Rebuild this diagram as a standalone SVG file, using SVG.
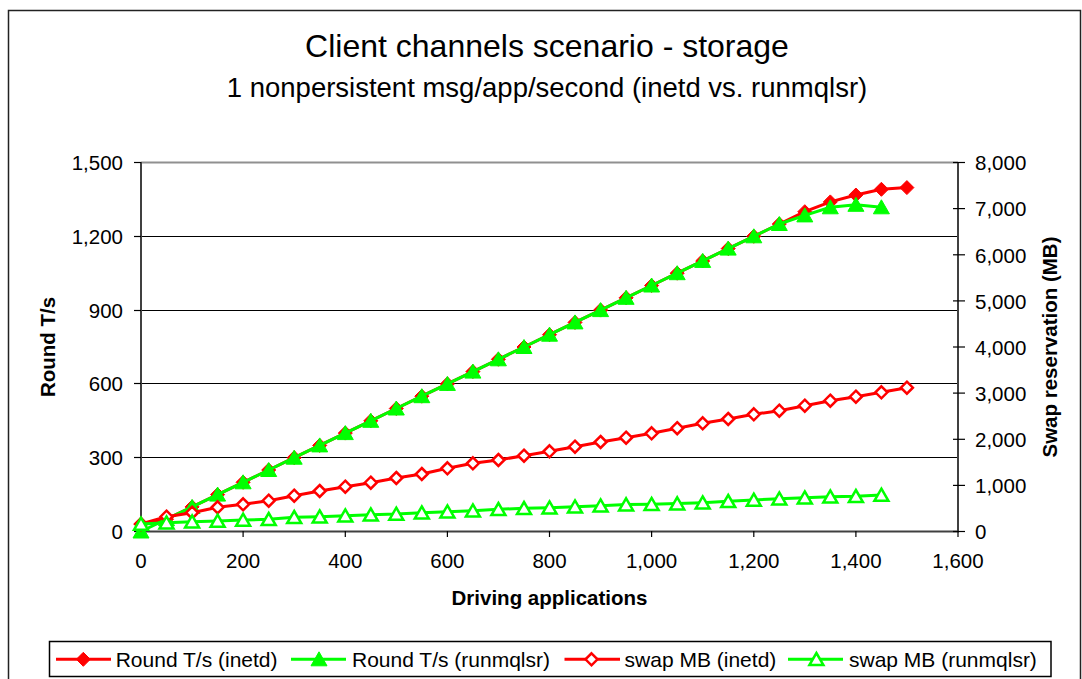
<svg xmlns="http://www.w3.org/2000/svg" xmlns:xlink="http://www.w3.org/1999/xlink" width="1082" height="679" viewBox="0 0 1082 679">
  <style>
    text { font-family: "Liberation Sans", Arial, sans-serif; fill: #000; }
    .title { font-size: 32px; text-anchor: middle; }
    .subtitle { font-size: 27.5px; text-anchor: middle; }
    .tick { font-size: 20.5px; }
    .tl { text-anchor: end; }
    .tb { text-anchor: middle; }
    .axt { font-size: 20.5px; font-weight: bold; text-anchor: middle; }
    .leg { font-size: 21px; }
    .grid { stroke: #000; stroke-width: 1; }
    .axis { stroke: #404040; stroke-width: 2; fill: none; }
    .tickm { stroke: #000; stroke-width: 1.2; }
    .sr { fill: none; stroke: #ff0000; stroke-width: 3; stroke-linejoin: round; }
    .sg { fill: none; stroke: #00ff00; stroke-width: 3; stroke-linejoin: round; }
  </style>
  <defs>
    <path id="dFill" d="M0,-7 L7,0 L0,7 L-7,0Z" fill="#ff0000" stroke="#ff0000" stroke-width="1"/>
    <path id="tFill" d="M0,-7.5 L8,6.5 L-8,6.5Z" fill="#00ff00" stroke="#00ff00" stroke-width="1"/>
    <path id="dOpen" d="M0,-6 L6,0 L0,6 L-6,0Z" fill="#fff" stroke="#ff0000" stroke-width="2.5"/>
    <path id="tOpen" d="M0,-6.3 L7,5.8 L-7,5.8Z" fill="#fff" stroke="#00ff00" stroke-width="2.5"/>
  </defs>

  <rect width="1082" height="679" fill="#fff"/>
  <!-- chart area frame -->
  <rect x="8.5" y="10.5" width="1072" height="700" fill="none" stroke="#222" stroke-width="1.5"/>

  <!-- titles -->
  <g id="title">
    <text class="title" x="547" y="57">Client channels scenario - storage</text>
    <text class="subtitle" x="547" y="97">1 nonpersistent msg/app/second (inetd vs. runmqlsr)</text>
  </g>

  <!-- plot area: gridlines and axes -->
  <g id="plot-frame">
    <line class="grid" x1="141" y1="457.5" x2="958" y2="457.5"/>
    <line class="grid" x1="141" y1="383.5" x2="958" y2="383.5"/>
    <line class="grid" x1="141" y1="310.5" x2="958" y2="310.5"/>
    <line class="grid" x1="141" y1="236.5" x2="958" y2="236.5"/>
    <line x1="141" y1="162.5" x2="958" y2="162.5" stroke="#909090" stroke-width="2"/>
    <line class="axis" x1="141" y1="162" x2="141" y2="532"/>
    <line class="axis" x1="958" y1="162" x2="958" y2="532"/>
    <line class="axis" x1="140" y1="531.5" x2="959" y2="531.5"/>
  </g>

  <!-- left axis -->
  <g id="axis-left">
    <g class="tickm">
      <line x1="134" y1="531.5" x2="141" y2="531.5"/>
      <line x1="134" y1="457.5" x2="141" y2="457.5"/>
      <line x1="134" y1="383.5" x2="141" y2="383.5"/>
      <line x1="134" y1="310.5" x2="141" y2="310.5"/>
      <line x1="134" y1="236.5" x2="141" y2="236.5"/>
      <line x1="134" y1="162.5" x2="141" y2="162.5"/>
    </g>
    <text class="tick tl" x="123" y="539">0</text>
    <text class="tick tl" x="123" y="465">300</text>
    <text class="tick tl" x="123" y="391">600</text>
    <text class="tick tl" x="123" y="318">900</text>
    <text class="tick tl" x="123" y="244">1,200</text>
    <text class="tick tl" x="123" y="170">1,500</text>
    <text class="axt" transform="translate(55,347) rotate(-90)">Round T/s</text>
  </g>

  <!-- bottom axis -->
  <g id="axis-bottom">
    <g class="tickm">
      <line x1="141" y1="531" x2="141" y2="537"/>
      <line x1="243.1" y1="531" x2="243.1" y2="537"/>
      <line x1="345.3" y1="531" x2="345.3" y2="537"/>
      <line x1="447.4" y1="531" x2="447.4" y2="537"/>
      <line x1="549.5" y1="531" x2="549.5" y2="537"/>
      <line x1="651.6" y1="531" x2="651.6" y2="537"/>
      <line x1="753.8" y1="531" x2="753.8" y2="537"/>
      <line x1="855.9" y1="531" x2="855.9" y2="537"/>
      <line x1="958" y1="531" x2="958" y2="537"/>
    </g>
    <text class="tick tb" x="141" y="568">0</text>
    <text class="tick tb" x="243.1" y="568">200</text>
    <text class="tick tb" x="345.3" y="568">400</text>
    <text class="tick tb" x="447.4" y="568">600</text>
    <text class="tick tb" x="549.5" y="568">800</text>
    <text class="tick tb" x="651.6" y="568">1,000</text>
    <text class="tick tb" x="753.8" y="568">1,200</text>
    <text class="tick tb" x="855.9" y="568">1,400</text>
    <text class="tick tb" x="958" y="568">1,600</text>
    <text class="axt" x="549.5" y="605">Driving applications</text>
  </g>

  <!-- right axis -->
  <g id="axis-right">
    <g class="tickm">
      <line x1="953" y1="531.5" x2="965" y2="531.5"/>
      <line x1="953" y1="485.4" x2="965" y2="485.4"/>
      <line x1="953" y1="439.3" x2="965" y2="439.3"/>
      <line x1="953" y1="393.1" x2="965" y2="393.1"/>
      <line x1="953" y1="347" x2="965" y2="347"/>
      <line x1="953" y1="300.9" x2="965" y2="300.9"/>
      <line x1="953" y1="254.8" x2="965" y2="254.8"/>
      <line x1="953" y1="208.6" x2="965" y2="208.6"/>
      <line x1="953" y1="162.5" x2="965" y2="162.5"/>
    </g>
    <text class="tick" x="975" y="539">0</text>
    <text class="tick" x="975" y="493">1,000</text>
    <text class="tick" x="975" y="447">2,000</text>
    <text class="tick" x="975" y="401">3,000</text>
    <text class="tick" x="975" y="354.5">4,000</text>
    <text class="tick" x="975" y="308.5">5,000</text>
    <text class="tick" x="975" y="262.5">6,000</text>
    <text class="tick" x="975" y="216">7,000</text>
    <text class="tick" x="975" y="170">8,000</text>
    <text class="axt" transform="translate(1057,347) rotate(-90)">Swap reservation (MB)</text>
  </g>

  <!-- data series -->
  <g id="series">
    <g id="round-inetd">
      <polyline class="sr" points="141.0,524.1 166.5,519.2 192.1,506.9 217.6,494.6 243.1,482.3 268.7,470.0 294.2,457.7 319.7,445.4 345.3,433.1 370.8,420.8 396.3,408.5 421.8,396.2 447.4,383.9 472.9,371.6 498.4,359.3 524.0,347.0 549.5,334.7 575.0,322.4 600.6,310.1 626.1,297.8 651.6,285.5 677.2,273.2 702.7,260.9 728.2,248.6 753.8,236.3 779.3,224.0 804.8,211.7 830.3,201.9 855.9,195.0 881.4,189.3 906.9,187.6"/>
      <use href="#dFill" x="141.0" y="524.1"/><use href="#dFill" x="166.5" y="519.2"/><use href="#dFill" x="192.1" y="506.9"/><use href="#dFill" x="217.6" y="494.6"/><use href="#dFill" x="243.1" y="482.3"/><use href="#dFill" x="268.7" y="470.0"/><use href="#dFill" x="294.2" y="457.7"/><use href="#dFill" x="319.7" y="445.4"/><use href="#dFill" x="345.3" y="433.1"/><use href="#dFill" x="370.8" y="420.8"/><use href="#dFill" x="396.3" y="408.5"/><use href="#dFill" x="421.8" y="396.2"/><use href="#dFill" x="447.4" y="383.9"/><use href="#dFill" x="472.9" y="371.6"/><use href="#dFill" x="498.4" y="359.3"/><use href="#dFill" x="524.0" y="347.0"/><use href="#dFill" x="549.5" y="334.7"/><use href="#dFill" x="575.0" y="322.4"/><use href="#dFill" x="600.6" y="310.1"/><use href="#dFill" x="626.1" y="297.8"/><use href="#dFill" x="651.6" y="285.5"/><use href="#dFill" x="677.2" y="273.2"/><use href="#dFill" x="702.7" y="260.9"/><use href="#dFill" x="728.2" y="248.6"/><use href="#dFill" x="753.8" y="236.3"/><use href="#dFill" x="779.3" y="224.0"/><use href="#dFill" x="804.8" y="211.7"/><use href="#dFill" x="830.3" y="201.9"/><use href="#dFill" x="855.9" y="195.0"/><use href="#dFill" x="881.4" y="189.3"/><use href="#dFill" x="906.9" y="187.6"/>
    </g>
    <g id="round-runmqlsr">
      <polyline class="sg" points="141.0,531.5 166.5,519.2 192.1,506.9 217.6,494.6 243.1,482.3 268.7,470.0 294.2,457.7 319.7,445.4 345.3,433.1 370.8,420.8 396.3,408.5 421.8,396.2 447.4,383.9 472.9,371.6 498.4,359.3 524.0,347.0 549.5,334.7 575.0,322.4 600.6,310.1 626.1,297.8 651.6,285.5 677.2,273.2 702.7,260.9 728.2,248.6 753.8,236.3 779.3,224.0 804.8,215.4 830.3,207.3 855.9,204.8 881.4,207.3"/>
      <use href="#tFill" x="141.0" y="531.5"/><use href="#tFill" x="166.5" y="519.2"/><use href="#tFill" x="192.1" y="506.9"/><use href="#tFill" x="217.6" y="494.6"/><use href="#tFill" x="243.1" y="482.3"/><use href="#tFill" x="268.7" y="470.0"/><use href="#tFill" x="294.2" y="457.7"/><use href="#tFill" x="319.7" y="445.4"/><use href="#tFill" x="345.3" y="433.1"/><use href="#tFill" x="370.8" y="420.8"/><use href="#tFill" x="396.3" y="408.5"/><use href="#tFill" x="421.8" y="396.2"/><use href="#tFill" x="447.4" y="383.9"/><use href="#tFill" x="472.9" y="371.6"/><use href="#tFill" x="498.4" y="359.3"/><use href="#tFill" x="524.0" y="347.0"/><use href="#tFill" x="549.5" y="334.7"/><use href="#tFill" x="575.0" y="322.4"/><use href="#tFill" x="600.6" y="310.1"/><use href="#tFill" x="626.1" y="297.8"/><use href="#tFill" x="651.6" y="285.5"/><use href="#tFill" x="677.2" y="273.2"/><use href="#tFill" x="702.7" y="260.9"/><use href="#tFill" x="728.2" y="248.6"/><use href="#tFill" x="753.8" y="236.3"/><use href="#tFill" x="779.3" y="224.0"/><use href="#tFill" x="804.8" y="215.4"/><use href="#tFill" x="830.3" y="207.3"/><use href="#tFill" x="855.9" y="204.8"/><use href="#tFill" x="881.4" y="207.3"/>
    </g>
    <g id="swap-inetd">
      <polyline class="sr" points="141.0,524.0 166.5,516.7 192.1,512.7 217.6,507.3 243.1,504.3 268.7,500.7 294.2,495.7 319.7,491.0 345.3,486.7 370.8,482.7 396.3,478.0 421.8,474.0 447.4,468.3 472.9,463.3 498.4,460.0 524.0,455.7 549.5,451.3 575.0,446.7 600.6,442.0 626.1,437.7 651.6,433.3 677.2,428.2 702.7,423.3 728.2,419.0 753.8,414.3 779.3,410.7 804.8,405.7 830.3,400.7 855.9,396.7 881.4,392.3 906.9,387.7"/>
      <use href="#dOpen" x="141.0" y="524.0"/><use href="#dOpen" x="166.5" y="516.7"/><use href="#dOpen" x="192.1" y="512.7"/><use href="#dOpen" x="217.6" y="507.3"/><use href="#dOpen" x="243.1" y="504.3"/><use href="#dOpen" x="268.7" y="500.7"/><use href="#dOpen" x="294.2" y="495.7"/><use href="#dOpen" x="319.7" y="491.0"/><use href="#dOpen" x="345.3" y="486.7"/><use href="#dOpen" x="370.8" y="482.7"/><use href="#dOpen" x="396.3" y="478.0"/><use href="#dOpen" x="421.8" y="474.0"/><use href="#dOpen" x="447.4" y="468.3"/><use href="#dOpen" x="472.9" y="463.3"/><use href="#dOpen" x="498.4" y="460.0"/><use href="#dOpen" x="524.0" y="455.7"/><use href="#dOpen" x="549.5" y="451.3"/><use href="#dOpen" x="575.0" y="446.7"/><use href="#dOpen" x="600.6" y="442.0"/><use href="#dOpen" x="626.1" y="437.7"/><use href="#dOpen" x="651.6" y="433.3"/><use href="#dOpen" x="677.2" y="428.2"/><use href="#dOpen" x="702.7" y="423.3"/><use href="#dOpen" x="728.2" y="419.0"/><use href="#dOpen" x="753.8" y="414.3"/><use href="#dOpen" x="779.3" y="410.7"/><use href="#dOpen" x="804.8" y="405.7"/><use href="#dOpen" x="830.3" y="400.7"/><use href="#dOpen" x="855.9" y="396.7"/><use href="#dOpen" x="881.4" y="392.3"/><use href="#dOpen" x="906.9" y="387.7"/>
    </g>
    <g id="swap-runmqlsr">
      <polyline class="sg" points="141.0,524.0 166.5,522.7 192.1,521.7 217.6,521.0 243.1,520.0 268.7,519.3 294.2,517.3 319.7,516.7 345.3,515.7 370.8,514.7 396.3,514.0 421.8,512.7 447.4,511.7 472.9,510.7 498.4,509.3 524.0,508.3 549.5,507.7 575.0,506.7 600.6,505.7 626.1,504.6 651.6,504.2 677.2,503.6 702.7,502.7 728.2,501.3 753.8,500.0 779.3,498.7 804.8,497.7 830.3,496.7 855.9,496.3 881.4,495.0"/>
      <use href="#tOpen" x="141.0" y="524.0"/><use href="#tOpen" x="166.5" y="522.7"/><use href="#tOpen" x="192.1" y="521.7"/><use href="#tOpen" x="217.6" y="521.0"/><use href="#tOpen" x="243.1" y="520.0"/><use href="#tOpen" x="268.7" y="519.3"/><use href="#tOpen" x="294.2" y="517.3"/><use href="#tOpen" x="319.7" y="516.7"/><use href="#tOpen" x="345.3" y="515.7"/><use href="#tOpen" x="370.8" y="514.7"/><use href="#tOpen" x="396.3" y="514.0"/><use href="#tOpen" x="421.8" y="512.7"/><use href="#tOpen" x="447.4" y="511.7"/><use href="#tOpen" x="472.9" y="510.7"/><use href="#tOpen" x="498.4" y="509.3"/><use href="#tOpen" x="524.0" y="508.3"/><use href="#tOpen" x="549.5" y="507.7"/><use href="#tOpen" x="575.0" y="506.7"/><use href="#tOpen" x="600.6" y="505.7"/><use href="#tOpen" x="626.1" y="504.6"/><use href="#tOpen" x="651.6" y="504.2"/><use href="#tOpen" x="677.2" y="503.6"/><use href="#tOpen" x="702.7" y="502.7"/><use href="#tOpen" x="728.2" y="501.3"/><use href="#tOpen" x="753.8" y="500.0"/><use href="#tOpen" x="779.3" y="498.7"/><use href="#tOpen" x="804.8" y="497.7"/><use href="#tOpen" x="830.3" y="496.7"/><use href="#tOpen" x="855.9" y="496.3"/><use href="#tOpen" x="881.4" y="495.0"/>
    </g>
  </g>

  <!-- legend -->
  <g id="legend">
    <rect x="49.5" y="641.5" width="1001.5" height="35" fill="#fff" stroke="#000" stroke-width="1.5"/>
    <line class="sr" x1="56" y1="659.3" x2="111" y2="659.3"/>
    <use href="#dFill" x="83.3" y="659.3"/>
    <text class="leg" x="115.7" y="666.5">Round T/s (inetd)</text>
    <line class="sg" x1="291" y1="659.3" x2="346" y2="659.3"/>
    <use href="#tFill" x="319" y="659.3"/>
    <text class="leg" x="352" y="666.5">Round T/s (runmqlsr)</text>
    <line class="sr" x1="564.5" y1="659.3" x2="620" y2="659.3"/>
    <use href="#dOpen" x="591.5" y="659.3"/>
    <text class="leg" x="624.6" y="666.5">swap MB (inetd)</text>
    <line class="sg" x1="788" y1="659.3" x2="843" y2="659.3"/>
    <use href="#tOpen" x="816.4" y="659.3"/>
    <text class="leg" x="849" y="666.5">swap MB (runmqlsr)</text>
  </g>
</svg>
